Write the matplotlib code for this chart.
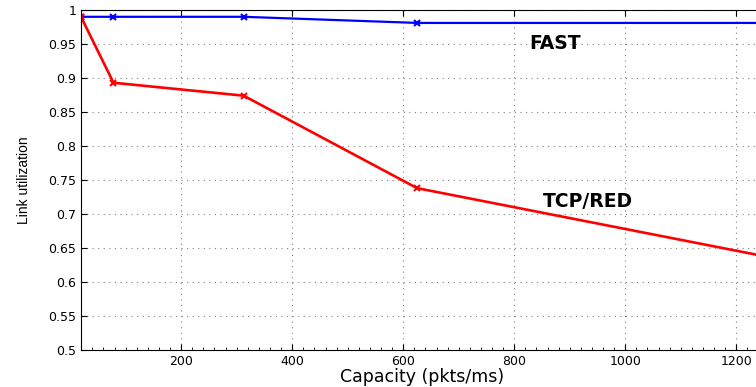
import matplotlib.pyplot as plt
from matplotlib.ticker import MultipleLocator, FuncFormatter

capacity = [19.5, 78, 312.5, 625, 1250]
fast_util = [0.99, 0.99, 0.99, 0.981, 0.981]
tcp_red_util = [0.99, 0.893, 0.874, 0.738, 0.638]

xticks = [200, 400, 600, 800, 1000, 1200]
yticks = [0.5, 0.55, 0.6, 0.65, 0.7, 0.75, 0.8, 0.85, 0.9, 0.95, 1.0]

plt.rcParams['font.family'] = ['DejaVu Sans']

fig = plt.figure(figsize=(7.56, 3.87), dpi=100)
ax = fig.add_axes([81 / 756, 37 / 387, 683 / 756, 340 / 387])

ax.plot(capacity, fast_util, color='blue', lw=1.6, marker='x', ms=4, mew=1.5)
ax.plot(capacity, tcp_red_util, color='red', lw=1.9, marker='x', ms=4, mew=1.5)

ax.set_xlim(19.5, 1250)
ax.set_ylim(0.5, 1.0)
ax.set_xticks(xticks)
ax.set_yticks(yticks)
ax.xaxis.set_minor_locator(MultipleLocator(20))
ax.yaxis.set_major_formatter(FuncFormatter(lambda v, p: f"{v:g}"))
ax.tick_params(which='both', direction='in', top=True, labelsize=9)
ax.tick_params(which='minor', length=2, top=False)
ax.tick_params(which='major', length=4)
ax.grid(True, which='major', linestyle=(0, (1, 4)), color='gray', lw=0.8)
ax.spines['right'].set_visible(False)

ax.text(827, 0.951, 'FAST', fontsize=13.5, fontweight='bold', va='center')
ax.text(852, 0.719, 'TCP/RED', fontsize=13.5, fontweight='bold', va='center')

ax.set_xlabel('Capacity (pkts/ms)', fontsize=12.5, labelpad=0)
ax.set_ylabel('Link utilization', fontsize=10, family=['Liberation Sans Narrow', 'Liberation Sans'], labelpad=12)

fig.savefig('out.png', dpi=100)
